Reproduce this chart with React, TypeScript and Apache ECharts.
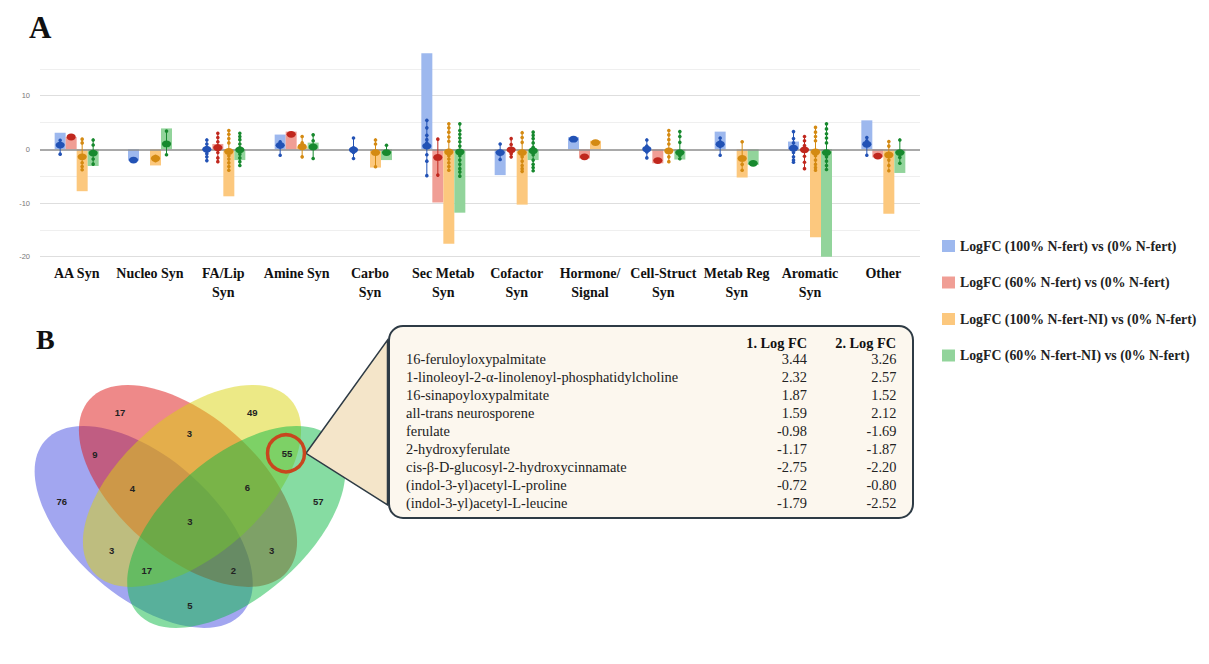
import React, { useEffect, useRef } from 'react';
import * as echarts from 'echarts';

// ---------------- DATA ----------------
const categories = ['AA Syn', 'Nucleo Syn', 'FA/Lip\nSyn', 'Amine Syn', 'Carbo\nSyn', 'Sec Metab\nSyn', 'Cofactor\nSyn', 'Hormone/\nSignal', 'Cell-Struct\nSyn', 'Metab Reg\nSyn', 'Aromatic\nSyn', 'Other'];
const seriesNames = [
  'LogFC (100% N-fert) vs (0% N-fert)',
  'LogFC (60% N-fert) vs (0% N-fert)',
  'LogFC (100% N-fert-NI) vs (0% N-fert)',
  'LogFC (60% N-fert-NI) vs (0% N-fert)',
];

// bar heights (summed LogFC)
const barN100 = [3.1, -2.1, 0, 2.75, 0, 17.9, -4.8, 2.25, 0, 3.3, 1.45, 5.4];
const barN60 = [2.3, 0, 1.0, 3.3, 0, -9.9, 0, -1.7, -2.6, 0, 0, -1.5];
const barN100NI = [-7.8, -3.0, -8.75, 0.5, -3.4, -17.6, -10.3, 1.6, 0, -5.25, -16.4, -12.0];
const barN60NI = [-3.1, 3.9, -2.0, 1.25, -2.0, -11.8, -2.0, 0, -1.9, -2.9, -20.0, -4.4];

// mean markers (null = no compound)
const meanN100 = [0.8, -2.0, 0.0, 0.75, -0.1, 0.6, -0.6, 1.9, 0.05, 0.95, 0.2, 0.95];
const meanN60 = [2.3, null, 0.3, 2.8, null, -1.5, -0.1, -1.4, -2.1, null, -0.1, -1.25];
const meanN100NI = [-1.4, -1.7, -0.4, 0.5, -0.6, -0.5, -0.6, 1.25, -0.3, -1.7, -0.5, -1.05];
const meanN60NI = [-0.7, 1.0, -0.1, 0.45, -0.6, -0.5, -0.25, null, -0.6, -2.6, -0.6, -0.6];

// individual compound LogFC points
const ptsN100 = [
  [1.7, 1.0, 0.6, -0.9], [-2.0], [1.75, 1.0, 0.4, -0.3, -0.8, -1.4, -2.1], [1.4, 0.9, 0.5, -1.1],
  [2.1, 0.3, -0.6, -1.7], [5.4, 4.0, 2.6, 1.8, 1.2, 0.8, 0.4, -1.0, -2.2, -4.9], [1.0, -0.3, -0.8, -1.9], [1.9],
  [1.75, 0.6, -0.5, -1.6], [2.1, 1.4, 0.6, -1.1], [3.3, 2.0, 1.2, 0.5, -0.6, -1.4, -2.0, -2.4], [2.2, 1.6, 0.8, -1.1],
];
const ptsN60 = [
  [2.3], [], [3.0, 2.2, 1.4, 0.6, -0.6, -1.6, -2.3], [2.8],
  [], [1.9, -1.5, -4.8], [2.0, 0.9, -0.8, -1.4], [-1.4],
  [-2.1], [], [2.4, 1.6, 0.7, -1.3, -2.4, -3.6], [-1.25],
];
const ptsN100NI = [
  [1.9, 1.2, -1.4, -2.5, -3.2, -3.8], [-1.3, -1.7, -2.1], [3.5, 2.8, 2.0, 1.2, -0.4, -1.2, -1.8, -2.5, -3.2, -3.9], [2.4, 1.2, 0.5, -1.4],
  [1.75, 1.0, -0.6, -3.25], [4.75, 4.0, 3.2, 2.3, 1.5, -0.5, -1.2, -1.8, -2.5, -3.2, -3.9], [3.1, 2.2, 1.3, -0.6, -1.4, -2.2, -3.0, -3.6, -4.1], [1.25],
  [3.5, 2.7, 1.8, 1.0, -0.3, -1.4, -2.3], [1.4, -1.7, -2.8, -3.9], [4.1, 3.2, 2.4, 1.6, -0.5, -1.2, -2.0, -2.8, -3.4, -3.9], [1.45, 0.6, -1.05, -2.0, -3.0, -4.0],
];
const ptsN60NI = [
  [1.75, 0.8, -0.7, -1.8, -2.75], [3.4, 1.0, -1.0], [3.0, 2.4, 1.8, 1.0, 0.3, -0.1, -0.9, -1.6, -2.3, -3.0], [2.7, 1.6, 0.45, -1.7],
  [0.75, -0.6], [4.75, 3.5, 2.8, 2.1, 1.4, 0.6, -0.5, -1.2, -2.0, -2.8, -3.6, -4.2, -5.0], [3.2, 2.6, 2.0, 1.2, 0.4, -0.25, -1.0, -2.0, -2.8, -3.4, -4.0], [],
  [3.3, 2.4, 1.3, -0.6, -1.2, -1.75], [-2.6], [4.75, 3.8, 2.9, 2.1, 1.2, -0.6, -1.4, -2.2, -3.0, -3.75], [1.75, -0.6, -1.5, -2.6],
];

const yGridValues = [-20, -15, -10, -5, 5, 10, 15];
const yLabelValues = [-20, -10, 0, 10];

// Venn region counts
const vennCounts = [17, 49, 3, 9, 55, 4, 6, 76, 57, 3, 3, 3, 17, 2, 5];

// Table
const compoundNames = [
  '16-feruloyloxypalmitate',
  '1-linoleoyl-2-α-linolenoyl-phosphatidylcholine',
  '16-sinapoyloxypalmitate',
  'all-trans neurosporene',
  'ferulate',
  '2-hydroxyferulate',
  'cis-β-D-glucosyl-2-hydroxycinnamate',
  '(indol-3-yl)acetyl-L-proline',
  '(indol-3-yl)acetyl-L-leucine',
];
const logFC1 = ['3.44', '2.32', '1.87', '1.59', '-0.98', '-1.17', '-2.75', '-0.72', '-1.79'];
const logFC2 = ['3.26', '2.57', '1.52', '2.12', '-1.69', '-1.87', '-2.20', '-0.80', '-2.52'];
const tableHeaders = ['1. Log FC', '2. Log FC'];

// ---------------- STYLE / LAYOUT ----------------
const barColors = ['#9db8ee', '#f09e95', '#fcc87e', '#92d49b'];
const dotColors = ['#2252b5', '#c0271d', '#d48a12', '#17892e'];
const BAR_W = 11;
const SERIF = '"Liberation Serif", "Times New Roman", serif';
const SANS = '"Liberation Sans", Arial, sans-serif';

const vennPos: [number, number][] = [
  [120, 412.7], [252.3, 412.7], [189.3, 433.3], [95, 454.3], [287, 453.3], [132.3, 488.3], [247.3, 487.7],
  [61.7, 501.7], [318.3, 501.7], [190, 521.7], [111.7, 550], [271.7, 550], [146.7, 570], [233.3, 570], [190, 605],
];
const DEG = Math.PI / 180;
const vennEllipses = [
  { x: 143.7, y: 527, rot: -41 * DEG, fill: 'rgba(69,77,225,0.5)' },
  { x: 188, y: 486, rot: -41 * DEG, fill: 'rgba(221,20,20,0.5)' },
  { x: 192, y: 486, rot: 41 * DEG, fill: 'rgba(217,211,13,0.5)' },
  { x: 236.3, y: 527, rot: 41 * DEG, fill: 'rgba(13,185,69,0.5)' },
];

function makeRender(pts: number[][], si: number) {
  const color = dotColors[si];
  return (params: any, api: any) => {
    const ci = api.value(0);
    const mean = api.value(1);
    const c = api.coord([ci, mean]);
    const x = c[0] + (si - 1.5) * BAR_W;
    const p = pts[ci] || [];
    const ys = p.map((v) => api.coord([ci, v])[1]);
    const children: any[] = [];
    if (p.length > 1) {
      children.push({
        type: 'line',
        shape: { x1: x, y1: Math.min(...ys), x2: x, y2: Math.max(...ys) },
        style: { stroke: color, lineWidth: 1 },
      });
      ys.forEach((y) => children.push({ type: 'circle', shape: { cx: x, cy: y, r: 1.8 }, style: { fill: color } }));
    }
    children.push({ type: 'ellipse', shape: { cx: x, cy: c[1], rx: 4.6, ry: 3.4 }, style: { fill: color } });
    return { type: 'group', children };
  };
}

export default function App() {
  const ref = useRef<HTMLDivElement>(null);
  useEffect(() => {
    document.body.style.margin = '0';
    const chart = echarts.init(ref.current!, undefined, { renderer: 'svg' });
    const bars = [barN100, barN60, barN100NI, barN60NI];
    const means = [meanN100, meanN60, meanN100NI, meanN60NI];
    const pts = [ptsN100, ptsN60, ptsN100NI, ptsN60NI];

    const barSeries: any[] = bars.map((d, i) => ({
      name: seriesNames[i],
      type: 'bar',
      data: d,
      barWidth: BAR_W,
      barGap: '0%',
      itemStyle: { color: barColors[i] },
      z: 2,
      ...(i === 0
        ? {
            markLine: {
              silent: true,
              symbol: 'none',
              z: 1,
              label: { show: false },
              data: yGridValues.map((v) => ({
                yAxis: v,
                lineStyle: { color: v % 10 === 0 ? '#dedede' : '#efefef', width: 1, type: 'solid' },
              })),
            },
          }
        : {}),
      ...(i === 1
        ? {
            markLine: {
              silent: true,
              symbol: 'none',
              z: 3,
              label: { show: false },
              data: [{ yAxis: 0, lineStyle: { color: '#8c8c8c', width: 1.5, type: 'solid' } }],
            },
          }
        : {}),
    }));

    const customSeries: any[] = means.map((m, i) => ({
      type: 'custom',
      name: 'pts' + i,
      renderItem: makeRender(pts[i], i),
      data: m.map((v, ci) => (v === null ? null : [ci, v])).filter((d) => d !== null),
      encode: { x: 0, y: 1 },
      z: 5,
      silent: true,
    }));

    const graphics: any[] = [];
    graphics.push({ type: 'text', x: 29, y: 12, style: { text: 'A', font: `bold 31px ${SERIF}`, fill: '#111' } });
    graphics.push({ type: 'text', x: 36, y: 325, style: { text: 'B', font: `bold 28px ${SERIF}`, fill: '#111' } });

    vennEllipses.forEach((e) =>
      graphics.push({
        type: 'ellipse',
        x: e.x,
        y: e.y,
        rotation: e.rot,
        shape: { cx: 0, cy: 0, rx: 131, ry: 70 },
        style: { fill: e.fill },
        z: 10,
      })
    );
    vennCounts.forEach((n, i) =>
      graphics.push({
        type: 'text',
        x: vennPos[i][0],
        y: vennPos[i][1],
        z: 12,
        style: { text: String(n), font: `bold 9.5px ${SANS}`, fill: '#222', align: 'center', verticalAlign: 'middle' },
      })
    );
    graphics.push({
      type: 'circle',
      z: 13,
      shape: { cx: 286, cy: 453.3, r: 18.5 },
      style: { fill: 'none', stroke: '#c8461e', lineWidth: 3.5 },
    });
    graphics.push({
      type: 'rect',
      z: 10,
      shape: { x: 389, y: 326, width: 524, height: 192, r: 14 },
      style: { fill: '#fcf7ee', stroke: '#2e3b45', lineWidth: 2 },
    });
    graphics.push({
      type: 'polygon',
      z: 11,
      shape: { points: [[306, 453.3], [387.5, 340], [387.5, 505]] },
      style: { fill: '#f4e5c9', stroke: '#2e3b45', lineWidth: 1.5 },
    });
    const rowY0 = 359.3;
    const rowH = 17.9;
    graphics.push({
      type: 'text', x: 807, y: 342.5, z: 12,
      style: { text: tableHeaders[0], font: `bold 14.3px ${SERIF}`, fill: '#111', align: 'right', verticalAlign: 'middle' },
    });
    graphics.push({
      type: 'text', x: 896, y: 342.5, z: 12,
      style: { text: tableHeaders[1], font: `bold 14.3px ${SERIF}`, fill: '#111', align: 'right', verticalAlign: 'middle' },
    });
    compoundNames.forEach((nm, i) => {
      const y = rowY0 + i * rowH;
      graphics.push({ type: 'text', x: 406, y, z: 12, style: { text: nm, font: `14.4px ${SERIF}`, fill: '#222', align: 'left', verticalAlign: 'middle' } });
      graphics.push({ type: 'text', x: 807, y, z: 12, style: { text: logFC1[i], font: `14.4px ${SERIF}`, fill: '#222', align: 'right', verticalAlign: 'middle' } });
      graphics.push({ type: 'text', x: 896.5, y, z: 12, style: { text: logFC2[i], font: `14.4px ${SERIF}`, fill: '#222', align: 'right', verticalAlign: 'middle' } });
    });

    chart.setOption({
      animation: false,
      backgroundColor: '#ffffff',
      grid: { left: 40, right: 289, top: 52.7, bottom: 407.3, containLabel: false },
      legend: {
        data: seriesNames,
        orient: 'vertical',
        left: 937,
        top: 234,
        icon: 'rect',
        itemWidth: 13,
        itemHeight: 12,
        itemGap: 22.5,
        selectedMode: false,
        textStyle: { fontFamily: SERIF, fontWeight: 'bold', fontSize: 13.8, color: '#222' },
      },
      xAxis: {
        type: 'category',
        data: categories,
        axisLine: { show: false, onZero: false },
        axisTick: { show: false },
        axisLabel: {
          interval: 0,
          fontFamily: SERIF,
          fontWeight: 'bold',
          fontSize: 14,
          lineHeight: 19,
          color: '#111',
          margin: 7,
        },
      },
      yAxis: {
        type: 'value',
        min: -20,
        max: 18,
        interval: 10,
        axisLine: { show: false },
        axisTick: { show: false },
        splitLine: { show: false },
        axisLabel: {
          fontSize: 7.5,
          color: '#777',
          margin: 10,
          showMaxLabel: false,
          formatter: (v: number) => (yLabelValues.includes(v) ? String(v) : ''),
        },
      },
      series: [...barSeries, ...customSeries],
      graphic: { elements: graphics },
    });
    return () => chart.dispose();
  }, []);
  return <div ref={ref} style={{ width: 1209, height: 664 }} />;
}
